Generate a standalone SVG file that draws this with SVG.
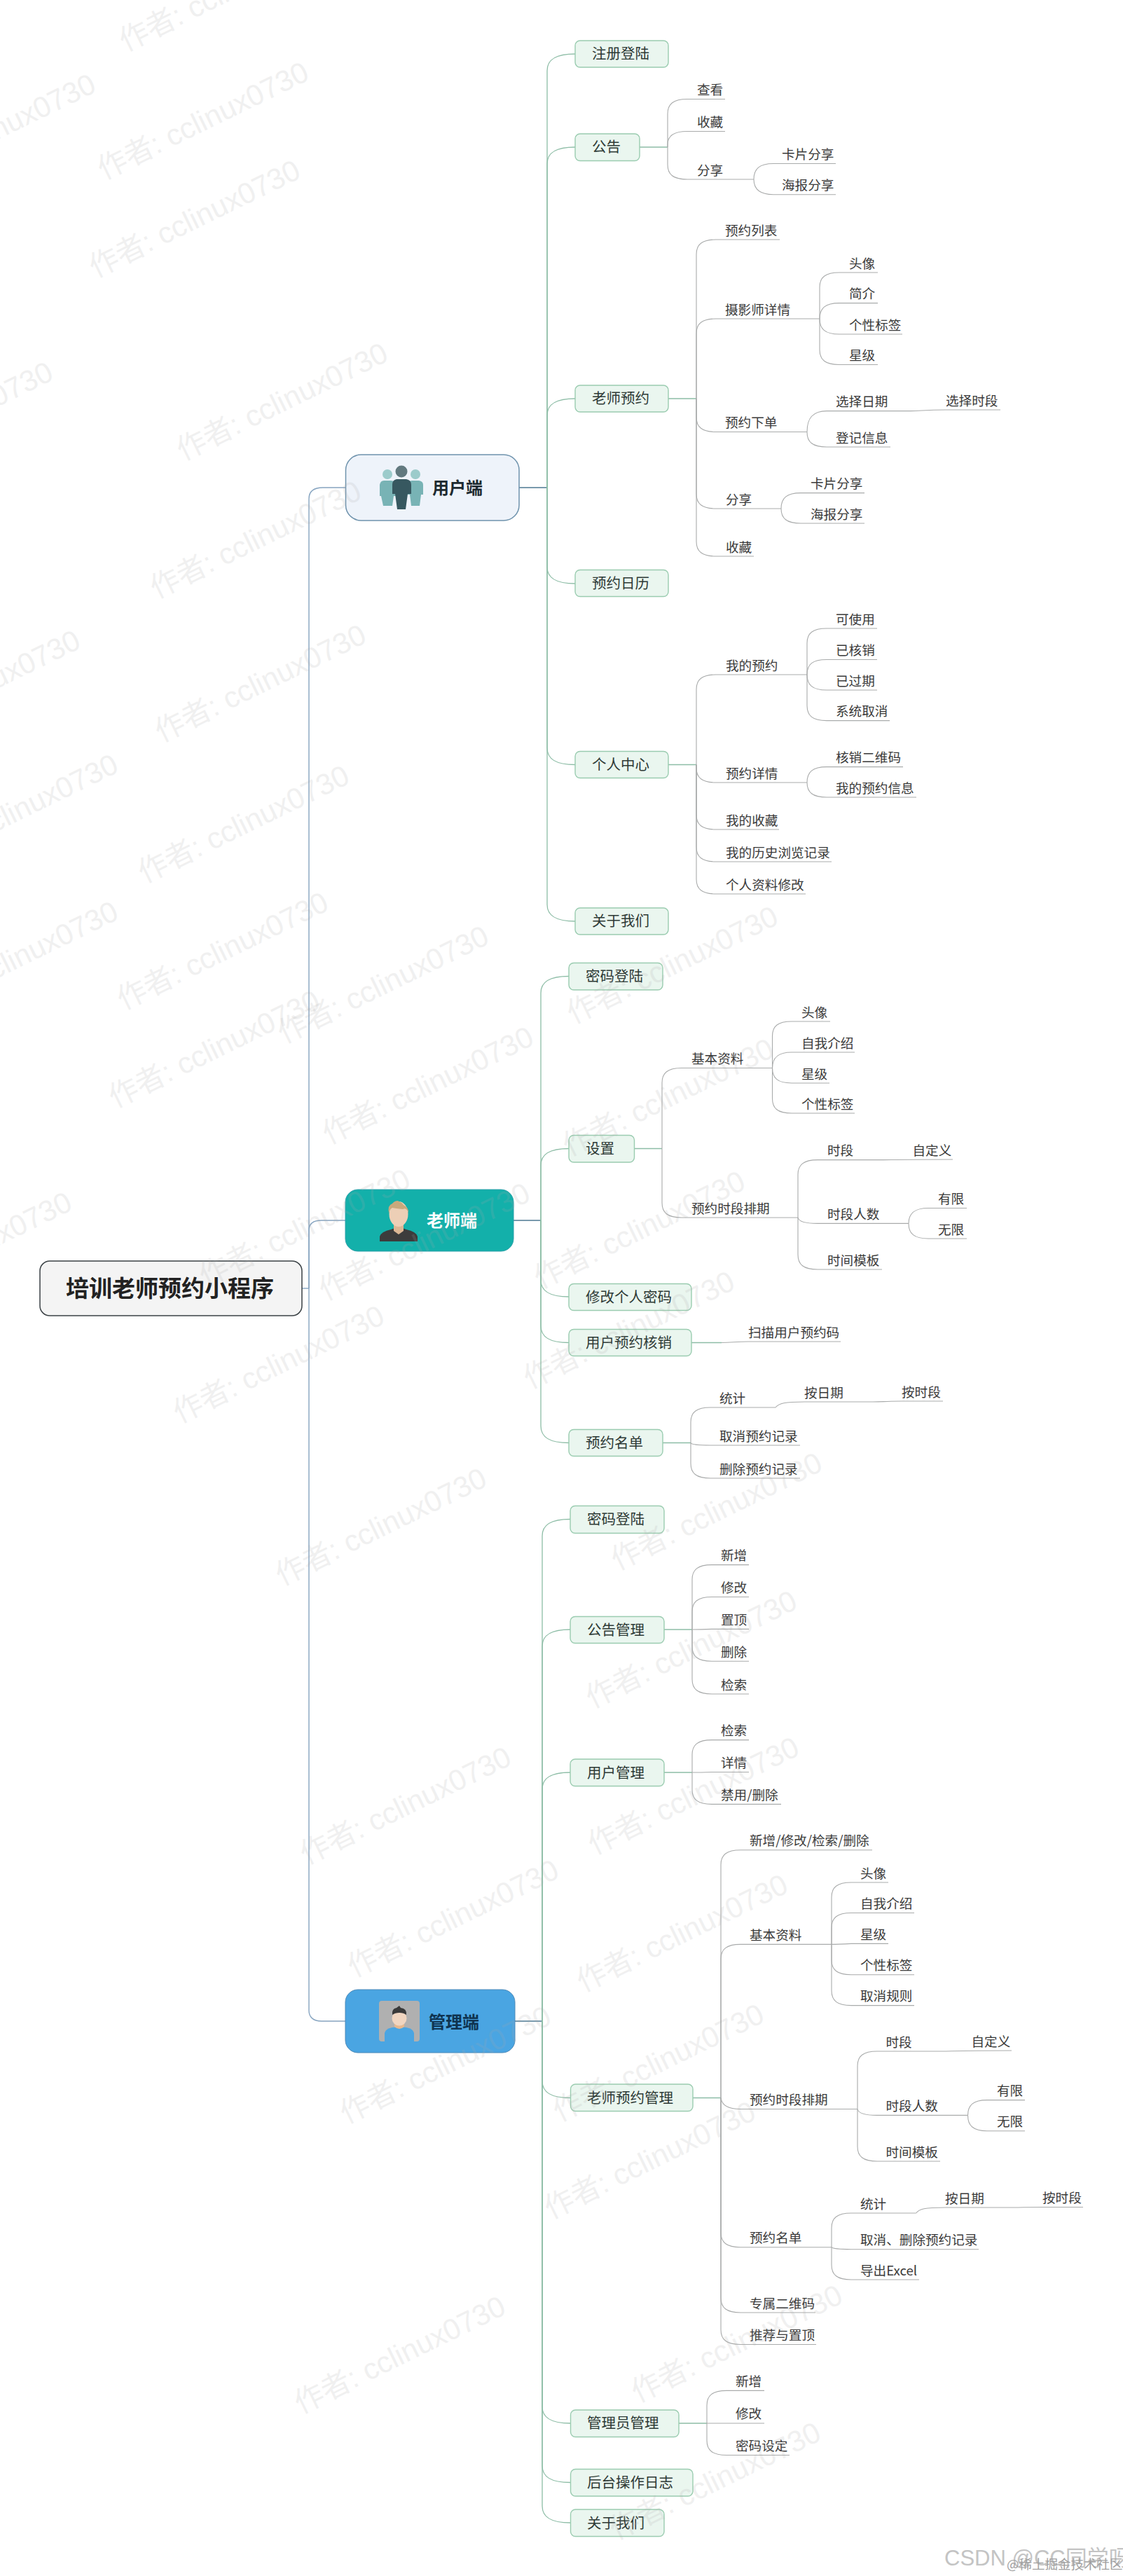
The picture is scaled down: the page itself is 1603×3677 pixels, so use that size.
<svg xmlns="http://www.w3.org/2000/svg" width="1603" height="3677" viewBox="0 0 1603 3677">
<style>
text{font-family:"Noto Sans CJK SC","Liberation Sans",sans-serif}
.r{fill:none;stroke:#86a4c0;stroke-width:1.4}
.s{fill:none;stroke:#8dbda6;stroke-width:1.3}
.c{fill:none;stroke:#a9abab;stroke-width:1.1}
.b{fill:#eaf6ef;stroke:#9accb0;stroke-width:1.4}
.n{font-size:20.5px;fill:#2e3a36}
.t{font-size:18.6px;fill:#3a3a3a}
.h{font-size:24px;font-weight:700}
.w{font-size:42px;fill:#aaa;opacity:.17;font-family:"Liberation Sans","Noto Sans CJK SC",sans-serif}
</style>
<rect width="1603" height="3677" fill="#fff"/>
<g id="connectors">
<g class="r">
<path d="M431 1839H441"/>
<path d="M441 1839V712C441 702 447 696 461 696H493"/>
<path d="M441 1839V1756C441 1747 447 1742 459 1742H493"/>
<path d="M441 1839V2870C441 2879 447 2885 459 2885H493"/>
<path d="M741 696H781M733 1742H772M735 2885H775" style="stroke:#4e7a92"/>
</g>
<g class="s">
<path d="M781 696V101C781 85 793 77 821 77"/>
<path d="M781 696V234C781 218 793 210 821 210"/>
<path d="M781 696V593C781 577 793 569 821 569"/>
<path d="M781 696V809C781 825 793 833 821 833"/>
<path d="M781 696V1067.500C781 1083.500 793 1091.500 821 1091.500"/>
<path d="M781 696V1291C781 1307 793 1315 821 1315"/>
<path d="M913 210H953M954 569H994M954 1091.500H994"/>
<path d="M772 1742V1417.500C772 1401.500 784 1393.500 812 1393.500"/>
<path d="M772 1742V1663.500C772 1647.500 784 1639.500 812 1639.500"/>
<path d="M772 1742V1827C772 1843 784 1851 812 1851"/>
<path d="M772 1742V1892.500C772 1908.500 784 1916.500 812 1916.500"/>
<path d="M772 1742V2035.500C772 2051.500 784 2059.500 812 2059.500"/>
<path d="M906 1639.500H945M946 2059.500H986M987 1916.500H1030"/>
<path d="M774 2885V2192.500C774 2176.500 786 2168.500 814 2168.500"/>
<path d="M774 2885V2350C774 2334 786 2326 814 2326"/>
<path d="M774 2885V2554C774 2538 786 2530 814 2530"/>
<path d="M774 2885V2970.500C774 2986.500 786 2994.500 814 2994.500"/>
<path d="M774 2885V3435C774 3451 786 3459 814 3459"/>
<path d="M774 2885V3519.500C774 3535.500 786 3543.500 814 3543.500"/>
<path d="M774 2885V3577C774 3593 786 3601 814 3601"/>
<path d="M948 2326H988M948 2530H988M989 2994.500H1029M969 3459H1009"/>
</g>
<g class="c">
<path d="M953 210V162.500C953 148.500 961 141.500 981 141.500H1035"/>
<path d="M953 210V206C953 195 961 187.500 981 187.500H1035"/>
<path d="M953 210V235C953 249 961 256 981 256H1076"/>
<path d="M1076 256C1076 241 1084 233.500 1104 233.500H1193"/>
<path d="M1076 256C1076 270 1084 277.700 1104 277.700H1193"/>
<path d="M994 569V363C994 349 1002 342 1022 342H1113"/>
<path d="M994 569V476C994 462 1002 455 1022 455H1170"/>
<path d="M994 569V595.500C994 609.500 1002 616.500 1022 616.500H1152"/>
<path d="M994 569V705C994 719 1002 726 1022 726H1115"/>
<path d="M994 569V773C994 787 1002 794 1022 794H1076"/>
<path d="M1170 455V410C1170 396 1178 389 1198 389H1253"/>
<path d="M1170 455C1170 440 1178 432.600 1198 432.600H1253"/>
<path d="M1170 455C1170 470 1178 477 1198 477H1288"/>
<path d="M1170 455V499.500C1170 513.500 1178 520.500 1198 520.500H1253"/>
<path d="M1152 616.500C1152 597 1160 586.600 1180 586.600H1300"/>
<path d="M1300 586.600C1315 586.600 1320 585 1350 585H1428"/>
<path d="M1152 616.500V617C1152 631 1160 638 1180 638H1271"/>
<path d="M1115 726C1115 711 1123 703.600 1143 703.600H1234"/>
<path d="M1115 726C1115 740 1123 747 1143 747H1234"/>
<path d="M994 1091.500V984C994 970 1002 963 1022 963H1152"/>
<path d="M994 1091.500V1096C994 1110 1002 1117 1022 1117H1152"/>
<path d="M994 1091.500V1163C994 1177 1002 1184 1022 1184H1112"/>
<path d="M994 1091.500V1209C994 1223 1002 1230 1022 1230H1187"/>
<path d="M994 1091.500V1255C994 1269 1002 1276 1022 1276H1150"/>
<path d="M1152 963V918C1152 904 1160 897 1180 897H1252"/>
<path d="M1152 963C1152 948 1160 941.500 1180 941.500H1252"/>
<path d="M1152 963C1152 978 1160 985 1180 985H1252"/>
<path d="M1152 963V1007.600C1152 1021.600 1160 1028.600 1180 1028.600H1270"/>
<path d="M1152 1117C1152 1102 1160 1094.600 1180 1094.600H1289"/>
<path d="M1152 1117C1152 1131 1160 1138 1180 1138H1308"/>
<path d="M945 1639.500V1545.500C945 1531.500 953 1524.500 973 1524.500H1102.500"/>
<path d="M945 1639.500V1717C945 1731 953 1738 973 1738H1139"/>
<path d="M1102.500 1524.500V1479C1102.500 1465 1110 1458 1130 1458H1185"/>
<path d="M1102.500 1524.500C1102.500 1510 1110 1502 1130 1502H1220"/>
<path d="M1102.500 1524.500C1102.500 1539 1110 1546 1130 1546H1184"/>
<path d="M1102.500 1524.500V1568C1102.500 1582 1110 1589 1130 1589H1220"/>
<path d="M1139 1738V1676.600C1139 1662.600 1147 1655.600 1167 1655.600H1261"/>
<path d="M1261 1655.600C1280 1655.600 1285 1655 1360 1655"/>
<path d="M1139 1738C1140 1743 1147 1746.400 1167 1746.400H1297"/>
<path d="M1139 1738V1791C1139 1805 1147 1812 1167 1812H1259"/>
<path d="M1297 1746.400C1297 1732 1305 1724.500 1325 1724.500H1380"/>
<path d="M1297 1746.400C1297 1761 1305 1768 1325 1768H1380"/>
<path d="M1030 1916.500C1045 1916.500 1050 1915 1068 1915H1200"/>
<path d="M986 2059.500V2030C986 2016 994 2009 1014 2009H1107"/>
<path d="M986 2059.500C987 2062 994 2063 1014 2063H1142"/>
<path d="M986 2059.500V2089C986 2103 994 2110 1014 2110H1142"/>
<path d="M1107 2009C1112 2003 1120 2001 1148 2001H1246"/>
<path d="M1246 2001C1260 2001 1265 2000 1287 2000H1346"/>
<path d="M988 2326V2254.600C988 2240.600 996 2233.600 1016 2233.600H1069"/>
<path d="M988 2326V2300.500C988 2286.500 996 2279.500 1016 2279.500H1069"/>
<path d="M988 2326C1000 2326 1016 2325.400 1016 2325.400H1069"/>
<path d="M988 2326V2350.300C988 2364.300 996 2371.300 1016 2371.300H1069"/>
<path d="M988 2326V2397C988 2411 996 2418 1016 2418H1069"/>
<path d="M988 2530V2504.600C988 2490.600 996 2483.600 1016 2483.600H1069"/>
<path d="M988 2530C1000 2530 1016 2529.500 1016 2529.500H1069"/>
<path d="M988 2530V2554.400C988 2568.400 996 2575.400 1016 2575.400H1115"/>
<path d="M1029 2994.500V2661.700C1029 2647.700 1037 2640.700 1057 2640.700H1245"/>
<path d="M1029 2994.500V2796.400C1029 2782.400 1037 2775.400 1057 2775.400H1187"/>
<path d="M1029 2994.500C1030 3003 1037 3010.500 1057 3010.500H1224"/>
<path d="M1029 2994.500V3186.700C1029 3200.700 1037 3207.700 1057 3207.700H1187"/>
<path d="M1029 2994.500V3280C1029 3294 1037 3301 1057 3301H1164"/>
<path d="M1029 2994.500V3325.500C1029 3339.500 1037 3346.500 1057 3346.500H1165"/>
<path d="M1187 2775.400V2708C1187 2694 1195 2687 1215 2687H1268"/>
<path d="M1187 2775.400V2751.500C1187 2737.500 1195 2730.500 1215 2730.500H1305"/>
<path d="M1187 2775.400C1195 2775.400 1215 2774.400 1215 2774.400H1268"/>
<path d="M1187 2775.400V2797.800C1187 2811.800 1195 2818.800 1215 2818.800H1305"/>
<path d="M1187 2775.400V2841.600C1187 2855.600 1195 2862.600 1215 2862.600H1305"/>
<path d="M1224 3010.500V2949C1224 2935 1232 2928 1252 2928H1345"/>
<path d="M1345 2928C1360 2928 1365 2927 1444 2927"/>
<path d="M1224 3010.500C1225 3015 1232 3019.400 1252 3019.400H1381.500"/>
<path d="M1224 3010.500V3064C1224 3078 1232 3085 1252 3085H1342"/>
<path d="M1381.500 3019.400C1381.500 3005 1389 2997.600 1409 2997.600H1463"/>
<path d="M1381.500 3019.400C1381.500 3034 1389 3041.700 1409 3041.700H1463"/>
<path d="M1187 3207.700V3180C1187 3166 1195 3159 1215 3159H1307.700"/>
<path d="M1187 3207.700C1188 3209 1195 3210.700 1215 3210.700H1397"/>
<path d="M1187 3207.700V3233C1187 3247 1195 3254 1215 3254H1312"/>
<path d="M1307.700 3159C1312 3153 1320 3151 1349 3151H1447"/>
<path d="M1447 3151C1460 3151 1465 3150.500 1488 3150.500H1546"/>
<path d="M1009 3459V3433.400C1009 3419.400 1017 3412.400 1037 3412.400H1091"/>
<path d="M1009 3459H1091"/>
<path d="M1009 3459V3483.500C1009 3497.500 1017 3504.500 1037 3504.500H1127"/>
</g>
</g>
<g id="root"><rect x="57" y="1800" width="374" height="78" rx="14" fill="#f4f4f4" stroke="#3b4246" stroke-width="1.5"/><text x="94" y="1850.500" font-size="33" font-weight="700" fill="#222">培训老师预约小程序</text></g>
<g id="user"><rect x="493.500" y="649" width="247.500" height="94" rx="22" fill="#eef3fa" stroke="#6f93ad" stroke-width="1.500"/>
<circle cx="553" cy="677" r="7" fill="#9ccbcb"/><circle cx="593" cy="677" r="7" fill="#9ccbcb"/>
<path d="M548 686H558Q564 686 566 692V708H562L560 722H547L544 708H542V692Q543 686 548 686ZM588 686H598Q604 687 604 692V706H601L599 722H587L585 706H581V692Q583 686 588 686Z" fill="#78b3b5"/>
<circle cx="573" cy="673" r="8.500" fill="#62797f"/>
<path d="M566 684H580Q587 685 587 692V705H582L579 727H567L564 705H560V692Q560 685 566 684Z" fill="#375860"/>
<text class="h" x="617" y="705" fill="#1d2a30">用户端</text></g>
<g id="teacher"><rect x="493" y="1698" width="240" height="88" rx="18" fill="#13b0aa" stroke="#2a9fa8" stroke-width="1"/>
<path d="M542 1772V1765Q544 1758 558 1755L569 1751L580 1755Q594 1758 596 1765V1772Z" fill="#3c3c3c"/>
<path d="M562 1745H576V1757L569 1762L562 1757Z" fill="#dcb795"/>
<ellipse cx="569" cy="1733" rx="13.500" ry="18" fill="#edcfb6"/>
<path d="M555 1732Q553 1720 560 1718Q563 1714 568 1714Q573 1716 576 1720Q584 1724 583 1732Q581 1723 575 1726Q565 1725 560 1724Q556 1726 555 1732Z" fill="#c9a97c"/>
<text class="h" x="609" y="1751" fill="#fff">老师端</text></g>
<g id="admin"><rect x="493" y="2840" width="242" height="90" rx="18" fill="#4aa5e2" stroke="#4a89b8" stroke-width="1"/>
<rect x="541" y="2856" width="58" height="58" rx="4" fill="#b0b0b0"/>
<path d="M549 2914V2902Q550 2896 560 2894L570 2893L580 2894Q590 2896 591 2902V2914Z" fill="#4aa5e2"/>
<path d="M563 2888H577V2893Q570 2899 563 2893Z" fill="#e6b88f"/>
<circle cx="570" cy="2881" r="10.500" fill="#f0d5c0"/>
<path d="M560 2876Q559 2867 566 2866L570 2863L572 2866Q581 2867 580 2876Q576 2873 570 2873Q564 2873 560 2876Z" fill="#3a3a3a"/>
<text class="h" x="612" y="2895" fill="#0f3350">管理端</text></g>

<g id="u1"><rect class="b" x="821" y="58" width="133" height="38" rx="7"/><text class="n" x="845" y="84">注册登陆</text></g>
<g id="u2"><rect class="b" x="821" y="191" width="92" height="38.500" rx="7"/><text class="n" x="845" y="217">公告</text></g>
<g id="u2a"><text class="t" x="995" y="135">查看</text></g>
<g id="u2b"><text class="t" x="995" y="181">收藏</text></g>
<g id="u2c"><text class="t" x="995" y="249.500">分享</text></g>
<g id="u2c1"><text class="t" x="1116" y="227">卡片分享</text></g>
<g id="u2c2"><text class="t" x="1116" y="271">海报分享</text></g>
<g id="u3"><rect class="b" x="821" y="550" width="133" height="38" rx="7"/><text class="n" x="845" y="576">老师预约</text></g>
<g id="u3a"><text class="t" x="1035" y="335.500">预约列表</text></g>
<g id="u3b"><text class="t" x="1035" y="448.500">摄影师详情</text></g>
<g id="u3b1"><text class="t" x="1212" y="382.500">头像</text></g>
<g id="u3b2"><text class="t" x="1212" y="426">简介</text></g>
<g id="u3b3"><text class="t" x="1212" y="470.500">个性标签</text></g>
<g id="u3b4"><text class="t" x="1212" y="514">星级</text></g>
<g id="u3c"><text class="t" x="1035" y="610">预约下单</text></g>
<g id="u3c1"><text class="t" x="1193" y="580">选择日期</text></g>
<g id="u3c2"><text class="t" x="1350" y="578.500">选择时段</text></g>
<g id="u3c3"><text class="t" x="1193" y="631.500">登记信息</text></g>
<g id="u3d"><text class="t" x="1036" y="719.500">分享</text></g>
<g id="u3d1"><text class="t" x="1157" y="697">卡片分享</text></g>
<g id="u3d2"><text class="t" x="1157" y="740.500">海报分享</text></g>
<g id="u3e"><text class="t" x="1036" y="787.500">收藏</text></g>
<g id="u4"><rect class="b" x="821" y="813.500" width="133" height="38" rx="7"/><text class="n" x="845" y="840">预约日历</text></g>
<g id="u5"><rect class="b" x="821" y="1072.500" width="133" height="38" rx="7"/><text class="n" x="845" y="1098.500">个人中心</text></g>
<g id="u5a"><text class="t" x="1036" y="956.500">我的预约</text></g>
<g id="u5a1"><text class="t" x="1193" y="890.500">可使用</text></g>
<g id="u5a2"><text class="t" x="1193" y="935">已核销</text></g>
<g id="u5a3"><text class="t" x="1193" y="978.500">已过期</text></g>
<g id="u5a4"><text class="t" x="1193" y="1022">系统取消</text></g>
<g id="u5b"><text class="t" x="1036" y="1110.500">预约详情</text></g>
<g id="u5b1"><text class="t" x="1193" y="1088">核销二维码</text></g>
<g id="u5b2"><text class="t" x="1193" y="1131.500">我的预约信息</text></g>
<g id="u5c"><text class="t" x="1036" y="1177.500">我的收藏</text></g>
<g id="u5d"><text class="t" x="1036" y="1223.500">我的历史浏览记录</text></g>
<g id="u5e"><text class="t" x="1036" y="1269.500">个人资料修改</text></g>
<g id="u6"><rect class="b" x="821" y="1296" width="133" height="38" rx="7"/><text class="n" x="845" y="1322">关于我们</text></g>

<g id="t1"><rect class="b" x="812" y="1374.500" width="134" height="38.500" rx="7"/><text class="n" x="836" y="1401">密码登陆</text></g>
<g id="t2"><rect class="b" x="812" y="1620.500" width="93.500" height="38.500" rx="7"/><text class="n" x="836" y="1647">设置</text></g>
<g id="t2a"><text class="t" x="987" y="1518">基本资料</text></g>
<g id="t2a1"><text class="t" x="1144" y="1451.500">头像</text></g>
<g id="t2a2"><text class="t" x="1144" y="1495.500">自我介绍</text></g>
<g id="t2a3"><text class="t" x="1144" y="1539.500">星级</text></g>
<g id="t2a4"><text class="t" x="1144" y="1582.500">个性标签</text></g>
<g id="t2b"><text class="t" x="987" y="1731.500">预约时段排期</text></g>
<g id="t2b1"><text class="t" x="1181" y="1649">时段</text></g>
<g id="t2b1a"><text class="t" x="1302.500" y="1648.500">自定义</text></g>
<g id="t2b2"><text class="t" x="1181" y="1740">时段人数</text></g>
<g id="t2b2a"><text class="t" x="1339" y="1718">有限</text></g>
<g id="t2b2b"><text class="t" x="1339" y="1761.500">无限</text></g>
<g id="t2b3"><text class="t" x="1181" y="1805.500">时间模板</text></g>
<g id="t3"><rect class="b" x="812" y="1832.500" width="175" height="38" rx="7"/><text class="n" x="836" y="1858.500">修改个人密码</text></g>
<g id="t4"><rect class="b" x="812" y="1897.500" width="175" height="38" rx="7"/><text class="n" x="836" y="1923.500">用户预约核销</text></g>
<g id="t4a"><text class="t" x="1068" y="1908.500">扫描用户预约码</text></g>
<g id="t5"><rect class="b" x="812" y="2040.500" width="134" height="38" rx="7"/><text class="n" x="836" y="2066.500">预约名单</text></g>
<g id="t5a"><text class="t" x="1027" y="2002.500">统计</text></g>
<g id="t5a1"><text class="t" x="1148" y="1994.500">按日期</text></g>
<g id="t5a2"><text class="t" x="1287" y="1993.500">按时段</text></g>
<g id="t5b"><text class="t" x="1027" y="2056.500">取消预约记录</text></g>
<g id="t5c"><text class="t" x="1027" y="2103.500">删除预约记录</text></g>

<g id="a1"><rect class="b" x="814" y="2149.500" width="134" height="39" rx="7"/><text class="n" x="838" y="2176">密码登陆</text></g>
<g id="a2"><rect class="b" x="814" y="2307.500" width="134" height="38" rx="7"/><text class="n" x="838" y="2333.500">公告管理</text></g>
<g id="a2a"><text class="t" x="1029" y="2227">新增</text></g>
<g id="a2b"><text class="t" x="1029" y="2273">修改</text></g>
<g id="a2c"><text class="t" x="1029" y="2319">置顶</text></g>
<g id="a2d"><text class="t" x="1029" y="2365">删除</text></g>
<g id="a2e"><text class="t" x="1029" y="2411.500">检索</text></g>
<g id="a3"><rect class="b" x="814" y="2511" width="134" height="38.500" rx="7"/><text class="n" x="838" y="2537.500">用户管理</text></g>
<g id="a3a"><text class="t" x="1029" y="2477">检索</text></g>
<g id="a3b"><text class="t" x="1029" y="2523">详情</text></g>
<g id="a3c"><text class="t" x="1029" y="2569">禁用/删除</text></g>
<g id="a4"><rect class="b" x="814.500" y="2975" width="174.500" height="38.500" rx="7"/><text class="n" x="838" y="3001.500">老师预约管理</text></g>
<g id="a4a"><text class="t" x="1070" y="2634">新增/修改/检索/删除</text></g>
<g id="a4b"><text class="t" x="1070" y="2769">基本资料</text></g>
<g id="a4b1"><text class="t" x="1228" y="2680.500">头像</text></g>
<g id="a4b2"><text class="t" x="1228" y="2724">自我介绍</text></g>
<g id="a4b3"><text class="t" x="1228" y="2768">星级</text></g>
<g id="a4b4"><text class="t" x="1228" y="2812">个性标签</text></g>
<g id="a4b5"><text class="t" x="1228" y="2856">取消规则</text></g>
<g id="a4c"><text class="t" x="1070" y="3004">预约时段排期</text></g>
<g id="a4c1"><text class="t" x="1264.500" y="2921.500">时段</text></g>
<g id="a4c1a"><text class="t" x="1386.500" y="2920.500">自定义</text></g>
<g id="a4c2"><text class="t" x="1264.500" y="3013">时段人数</text></g>
<g id="a4c2a"><text class="t" x="1423" y="2991">有限</text></g>
<g id="a4c2b"><text class="t" x="1423" y="3035">无限</text></g>
<g id="a4c3"><text class="t" x="1264.500" y="3078.500">时间模板</text></g>
<g id="a4d"><text class="t" x="1070" y="3201">预约名单</text></g>
<g id="a4d1"><text class="t" x="1228" y="3152.500">统计</text></g>
<g id="a4d1a"><text class="t" x="1349" y="3144.500">按日期</text></g>
<g id="a4d1b"><text class="t" x="1488" y="3144">按时段</text></g>
<g id="a4d2"><text class="t" x="1228" y="3204">取消、删除预约记录</text></g>
<g id="a4d3"><text class="t" x="1228" y="3247.500">导出Excel</text></g>
<g id="a4e"><text class="t" x="1070" y="3294.500">专属二维码</text></g>
<g id="a4f"><text class="t" x="1070" y="3340">推荐与置顶</text></g>
<g id="a5"><rect class="b" x="814.500" y="3440" width="154.500" height="38.500" rx="7"/><text class="n" x="838" y="3466">管理员管理</text></g>
<g id="a5a"><text class="t" x="1050" y="3406">新增</text></g>
<g id="a5b"><text class="t" x="1050" y="3452">修改</text></g>
<g id="a5c"><text class="t" x="1050" y="3498">密码设定</text></g>
<g id="a6"><rect class="b" x="814.500" y="3524.500" width="174.500" height="38.500" rx="7"/><text class="n" x="838" y="3551">后台操作日志</text></g>
<g id="a7"><rect class="b" x="814.500" y="3582" width="133.500" height="38.500" rx="7"/><text class="n" x="838" y="3608.500">关于我们</text></g>

<g id="watermarks">
<text class="w" transform="translate(179 74) rotate(-26)">作者: cclinux0730</text>
<text class="w" transform="translate(-156 274) rotate(-26)">作者: cclinux0730</text>
<text class="w" transform="translate(148 257) rotate(-26)">作者: cclinux0730</text>
<text class="w" transform="translate(136 397) rotate(-26)">作者: cclinux0730</text>
<text class="w" transform="translate(261 658) rotate(-26)">作者: cclinux0730</text>
<text class="w" transform="translate(-217 685) rotate(-26)">作者: cclinux0730</text>
<text class="w" transform="translate(223 855) rotate(-26)">作者: cclinux0730</text>
<text class="w" transform="translate(-178 1068) rotate(-26)">作者: cclinux0730</text>
<text class="w" transform="translate(230 1060) rotate(-26)">作者: cclinux0730</text>
<text class="w" transform="translate(-124 1245) rotate(-26)">作者: cclinux0730</text>
<text class="w" transform="translate(206 1261) rotate(-26)">作者: cclinux0730</text>
<text class="w" transform="translate(-124 1455) rotate(-26)">作者: cclinux0730</text>
<text class="w" transform="translate(176 1442) rotate(-26)">作者: cclinux0730</text>
<text class="w" transform="translate(164 1582) rotate(-26)">作者: cclinux0730</text>
<text class="w" transform="translate(405 1490) rotate(-26)">作者: cclinux0730</text>
<text class="w" transform="translate(469 1634) rotate(-26)">作者: cclinux0730</text>
<text class="w" transform="translate(818 1462) rotate(-26)">作者: cclinux0730</text>
<text class="w" transform="translate(812 1651) rotate(-26)">作者: cclinux0730</text>
<text class="w" transform="translate(-190 1870) rotate(-26)">作者: cclinux0730</text>
<text class="w" transform="translate(293 1837) rotate(-26)">作者: cclinux0730</text>
<text class="w" transform="translate(464 1857) rotate(-26)">作者: cclinux0730</text>
<text class="w" transform="translate(771 1840) rotate(-26)">作者: cclinux0730</text>
<text class="w" transform="translate(756 1983) rotate(-26)">作者: cclinux0730</text>
<text class="w" transform="translate(256 2032) rotate(-26)">作者: cclinux0730</text>
<text class="w" transform="translate(881 2242) rotate(-26)">作者: cclinux0730</text>
<text class="w" transform="translate(402 2264) rotate(-26)">作者: cclinux0730</text>
<text class="w" transform="translate(845 2439) rotate(-26)">作者: cclinux0730</text>
<text class="w" transform="translate(848 2648) rotate(-26)">作者: cclinux0730</text>
<text class="w" transform="translate(437 2662) rotate(-26)">作者: cclinux0730</text>
<text class="w" transform="translate(505 2823) rotate(-26)">作者: cclinux0730</text>
<text class="w" transform="translate(832 2844) rotate(-26)">作者: cclinux0730</text>
<text class="w" transform="translate(494 3032) rotate(-26)">作者: cclinux0730</text>
<text class="w" transform="translate(798 3029) rotate(-26)">作者: cclinux0730</text>
<text class="w" transform="translate(786 3168) rotate(-26)">作者: cclinux0730</text>
<text class="w" transform="translate(429 3446) rotate(-26)">作者: cclinux0730</text>
<text class="w" transform="translate(910 3430) rotate(-26)">作者: cclinux0730</text>
<text class="w" transform="translate(879 3626) rotate(-26)">作者: cclinux0730</text>
</g>
<g id="credit">
<text x="1348" y="3662" font-size="31" fill="#c4c4c4" style="font-family:'Liberation Sans','Noto Sans CJK SC',sans-serif">CSDN @CC同学呀</text>
<text x="1437" y="3667" font-size="18.500" fill="#a0a0a0">@稀土掘金技术社区</text>
</g>
</svg>
